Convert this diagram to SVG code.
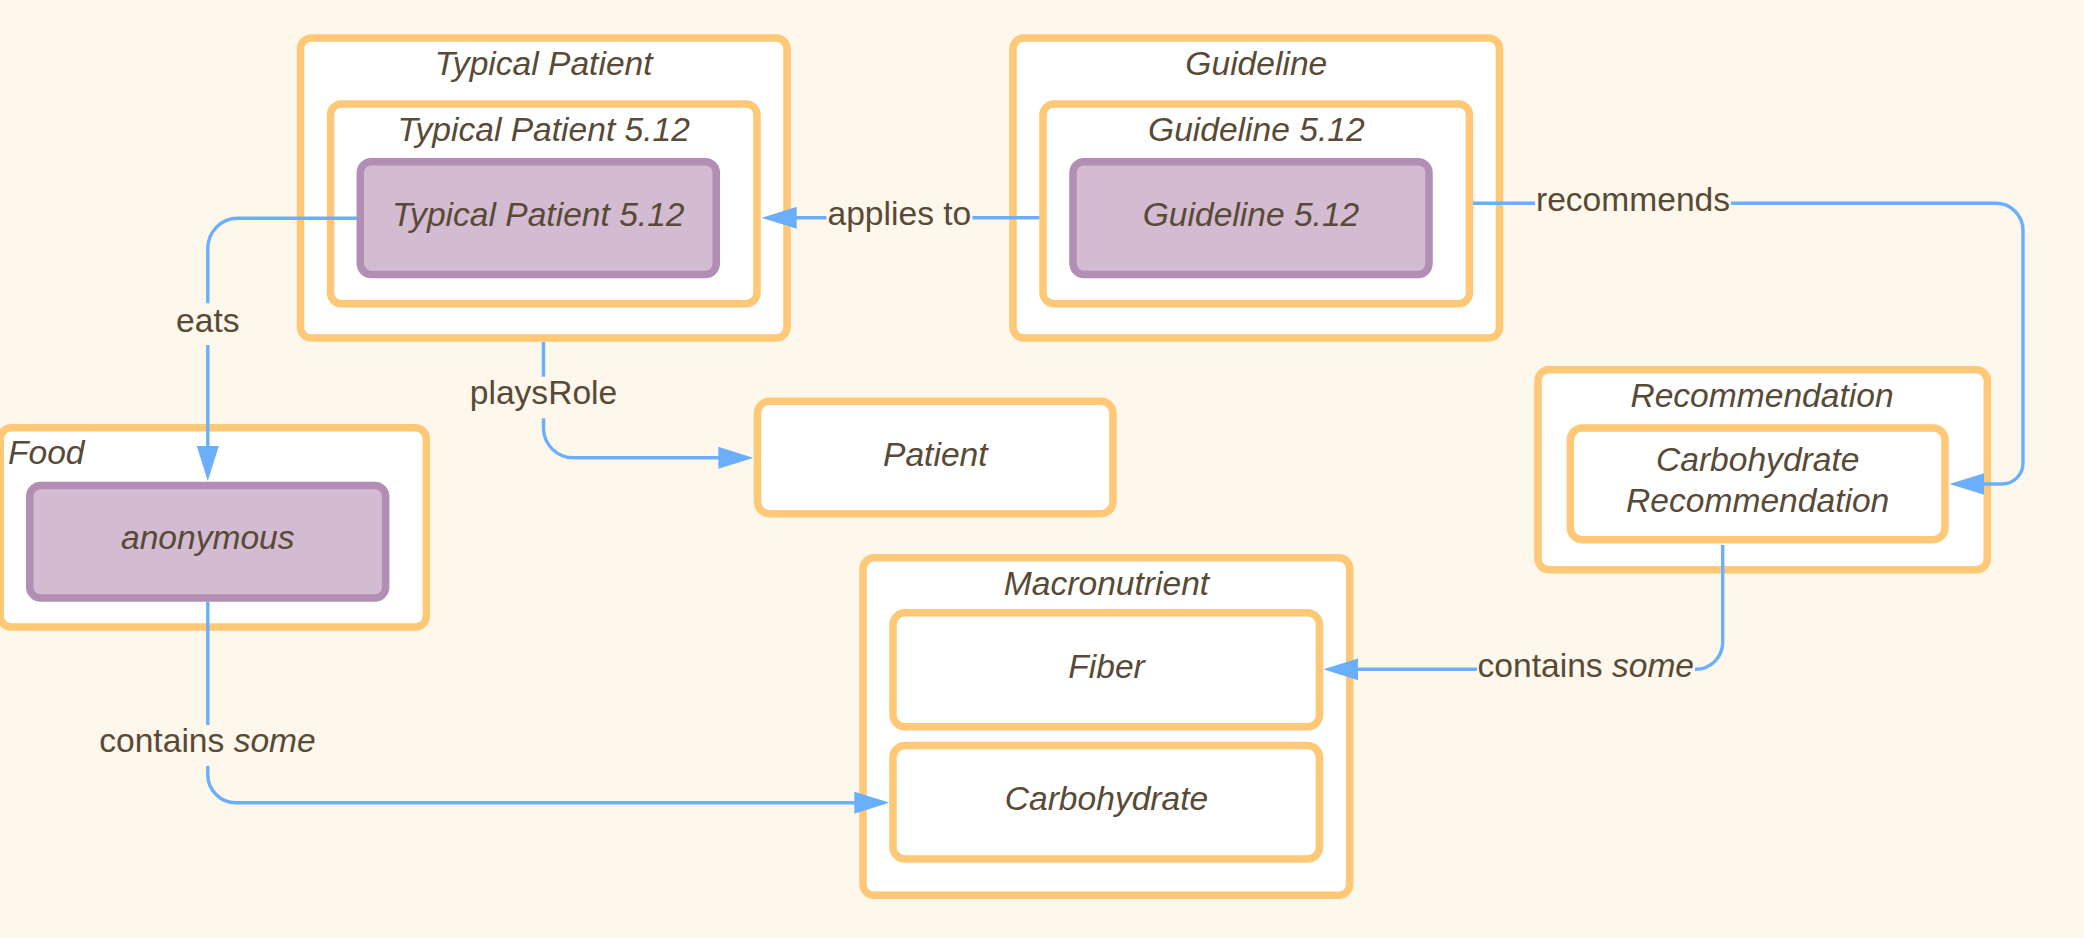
<svg xmlns="http://www.w3.org/2000/svg" width="2084" height="938" viewBox="0 0 2084 938">
<defs>
<style>
.bg{fill:#fef7eb}
.box{fill:#ffffff;stroke:#fec876;stroke-width:7.5}
.inst{fill:#d3bbd1;stroke:#b28eb4;stroke-width:7.5}
.t{font-family:"Liberation Sans",Arial,sans-serif;font-size:33.6px;fill:#584a36;text-anchor:middle;font-style:italic}
.lbl{font-family:"Liberation Sans",Arial,sans-serif;font-size:33.6px;fill:#584a36;text-anchor:middle}
.it{font-style:italic}
.edge{fill:none;stroke:#6aaffc;stroke-width:3.4}
.lblbg{fill:#fef7eb}
</style>
<marker id="arr" markerUnits="userSpaceOnUse" markerWidth="35" markerHeight="22" viewBox="0 0 35 22" refX="25" refY="11" orient="auto">
<path d="M0,0 L35,11 L0,22 z" fill="#6aaffc"/>
</marker>
</defs>
<rect class="bg" x="0" y="0" width="2084" height="938"/>

<g id="typical-patient">
<rect class="box" x="300.5" y="38" width="486.5" height="300" rx="11"/>
<text class="t" x="543.7" y="74.5">Typical Patient</text>
<g id="typical-patient-512">
<rect class="box" x="330.5" y="104" width="426.5" height="199.7" rx="11"/>
<text class="t" x="543.7" y="140.5">Typical Patient 5.12</text>
<g id="typical-patient-512-inst">
<rect class="inst" x="360.3" y="161.7" width="356" height="112.8" rx="11"/>
<text class="t" x="538.3" y="225.5">Typical Patient 5.12</text>
</g>
</g>
</g>

<g id="guideline">
<rect class="box" x="1013" y="38" width="486.5" height="300" rx="11"/>
<text class="t" x="1256.3" y="74.5">Guideline</text>
<g id="guideline-512">
<rect class="box" x="1043" y="104" width="426.5" height="199.7" rx="11"/>
<text class="t" x="1256.3" y="140.5">Guideline 5.12</text>
<g id="guideline-512-inst">
<rect class="inst" x="1073" y="161.7" width="356" height="112.8" rx="11"/>
<text class="t" x="1251" y="225.5">Guideline 5.12</text>
</g>
</g>
</g>

<g id="patient">
<rect class="box" x="757.5" y="401.3" width="355.5" height="112.4" rx="12"/>
<text class="t" x="935.3" y="465.5">Patient</text>
</g>

<g id="recommendation">
<rect class="box" x="1538" y="369.7" width="449.3" height="200" rx="11"/>
<text class="t" x="1762" y="406.5">Recommendation</text>
<g id="carbohydrate-recommendation">
<rect class="box" x="1570.3" y="428" width="374.7" height="111.7" rx="12"/>
<text class="t" x="1757.7" y="471.2">Carbohydrate</text>
<text class="t" x="1757.7" y="511.9">Recommendation</text>
</g>
</g>

<g id="food">
<rect class="box" x="0.3" y="427.8" width="426" height="199.2" rx="11"/>
<text class="t" x="8" y="463.9" style="text-anchor:start">Food</text>
<g id="anonymous">
<rect class="inst" x="29.7" y="485.5" width="356" height="112.5" rx="11"/>
<text class="t" x="207.8" y="548.8">anonymous</text>
</g>
</g>

<g id="macronutrient">
<rect class="box" x="863" y="557.8" width="486.7" height="337.5" rx="11"/>
<text class="t" x="1106.5" y="594.5">Macronutrient</text>
<g id="fiber">
<rect class="box" x="893" y="612.8" width="426.5" height="114" rx="12"/>
<text class="t" x="1106.5" y="677.8">Fiber</text>
</g>
<g id="carbohydrate">
<rect class="box" x="893" y="745.5" width="426.5" height="113.5" rx="12"/>
<text class="t" x="1106.5" y="810.3">Carbohydrate</text>
</g>
</g>

<g id="connectors">
<path class="edge" d="M357,218.3 H237.8 A30,30 0 0 0 207.8,248.3 V471" marker-end="url(#arr)"/>
<rect class="lblbg" x="175" y="303.3" width="66" height="41.7"/>
<text class="lbl" x="207.8" y="331.7">eats</text>

<path class="edge" d="M1039.5,217.8 H771.7" marker-end="url(#arr)"/>
<rect class="lblbg" x="826.5" y="196" width="146" height="40"/>
<text class="lbl" x="899.4" y="225.3">applies to</text>

<path class="edge" d="M543.5,342 V428 A30,30 0 0 0 573.5,457.8 H743.3" marker-end="url(#arr)"/>
<rect class="lblbg" x="469" y="376.7" width="149" height="41.6"/>
<text class="lbl" x="543.5" y="404">playsRole</text>

<path class="edge" d="M1473,203.3 H1996 A27,27 0 0 1 2023,230.3 V463 A21,21 0 0 1 2002,484 H1959.4" marker-end="url(#arr)"/>
<rect class="lblbg" x="1535" y="182" width="196" height="40"/>
<text class="lbl" x="1633" y="210.7">recommends</text>

<path class="edge" d="M1722.7,545 V642.3 A27,27 0 0 1 1695.7,669.3 H1333.3" marker-end="url(#arr)"/>
<rect class="lblbg" x="1477" y="648" width="218" height="40"/>
<text class="lbl" x="1585.8" y="676.7">contains <tspan class="it">some</tspan></text>

<path class="edge" d="M207.8,602 V774.7 A28,28 0 0 0 235.8,802.7 H879.3" marker-end="url(#arr)"/>
<rect class="lblbg" x="98.5" y="725" width="218" height="41"/>
<text class="lbl" x="207.5" y="751.7">contains <tspan class="it">some</tspan></text>
</g>
</svg>
